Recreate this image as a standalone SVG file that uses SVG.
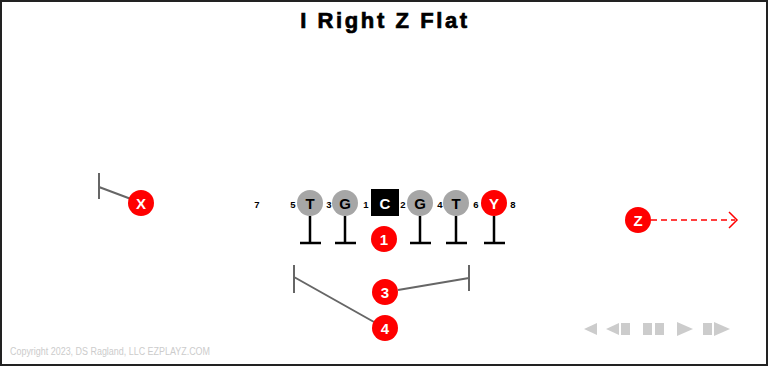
<svg xmlns="http://www.w3.org/2000/svg" width="768" height="366" viewBox="0 0 768 366">
<style>
.red{fill:#ff0000}
.gray{fill:#a6a6a6}
.lbl{font-family:"Liberation Sans",Arial,sans-serif;font-weight:bold;font-size:15px;text-anchor:middle;dominant-baseline:central}
.w{fill:#ffffff}
.k{fill:#000000}
.num{font-family:"Liberation Sans",Arial,sans-serif;font-weight:bold;font-size:9.5px;text-anchor:middle;dominant-baseline:central;fill:#000}
.blk{stroke:#000;stroke-width:2.5;fill:none}
.rt{stroke:#666;stroke-width:2;fill:none}
.ctl{fill:#cccccc}
</style>
<rect x="1" y="1" width="766" height="364" fill="#ffffff" stroke="#222" stroke-width="2"/>
<text x="385" y="28" font-family="Liberation Sans,Arial,sans-serif" font-weight="bold" font-size="22" letter-spacing="2.6" text-anchor="middle" fill="#000" stroke="#000" stroke-width="0.7">I Right Z Flat</text>
<g id="connectors">
<path class="blk" d="M310 216V243M300 243H321"/>
<path class="blk" d="M345 216V243M335 243H356"/>
<path class="blk" d="M420 216V243M410 243H431"/>
<path class="blk" d="M456 216V243M446 243H467"/>
<path class="blk" d="M494 216V243M484 243H505"/>
<path class="rt" d="M131 199L99 187M99 173V199"/>
<path class="rt" d="M374 322L294 277M294 265V293"/>
<path class="rt" d="M398 290L469 278M469 265V291"/>
<path d="M651 220H735" stroke="#ff0000" stroke-width="1.5" stroke-dasharray="6,4" fill="none"/>
<path d="M729 212L737 220L729 228" stroke="#ff0000" stroke-width="1.5" fill="none"/>
</g>
<g id="gaps">
<text class="num" x="257" y="204">7</text>
<text class="num" x="293" y="204">5</text>
<text class="num" x="329" y="204">3</text>
<text class="num" x="366" y="204">1</text>
<text class="num" x="403" y="204">2</text>
<text class="num" x="440" y="204">4</text>
<text class="num" x="476" y="204">6</text>
<text class="num" x="513" y="204">8</text>
</g>
<g id="LT"><circle class="gray" cx="310" cy="203" r="13"/><text class="lbl k" x="310" y="203">T</text></g>
<g id="LG"><circle class="gray" cx="345" cy="203" r="13"/><text class="lbl k" x="345" y="203">G</text></g>
<g id="C"><rect x="371" y="189" width="28" height="27" fill="#000"/><text class="lbl w" x="385" y="203">C</text></g>
<g id="RG"><circle class="gray" cx="420" cy="203" r="13"/><text class="lbl k" x="420" y="203">G</text></g>
<g id="RT"><circle class="gray" cx="456" cy="203" r="13"/><text class="lbl k" x="456" y="203">T</text></g>
<g id="Y"><circle class="red" cx="494" cy="203" r="13"/><text class="lbl w" x="494" y="203">Y</text></g>
<g id="X"><circle class="red" cx="141" cy="203" r="13"/><text class="lbl w" x="141" y="203">X</text></g>
<g id="Z"><circle class="red" cx="638" cy="220" r="13"/><text class="lbl w" x="638" y="220">Z</text></g>
<g id="P1"><circle class="red" cx="384" cy="239" r="13"/><text class="lbl w" x="384" y="239">1</text></g>
<g id="P3"><circle class="red" cx="385" cy="292" r="13"/><text class="lbl w" x="385" y="292">3</text></g>
<g id="P4"><circle class="red" cx="385" cy="328" r="13"/><text class="lbl w" x="385" y="328">4</text></g>
<g id="controls">
<polygon class="ctl" points="584,329 597,323 597,335"/>
<polygon class="ctl" points="606,329 619,323 619,335"/>
<rect class="ctl" x="621" y="323" width="9" height="12"/>
<rect class="ctl" x="643" y="323" width="9" height="12"/>
<rect class="ctl" x="655" y="323" width="9" height="12"/>
<polygon class="ctl" points="693,329 677,322 677,336"/>
<rect class="ctl" x="703" y="323" width="9" height="12"/>
<polygon class="ctl" points="730,329 714,322 714,336"/>
</g>
<text x="10" y="355" font-family="Liberation Sans,Arial,sans-serif" font-size="10" fill="#cccccc" textLength="200" lengthAdjust="spacingAndGlyphs">Copyright 2023, DS Ragland, LLC EZPLAYZ.COM</text>
</svg>
